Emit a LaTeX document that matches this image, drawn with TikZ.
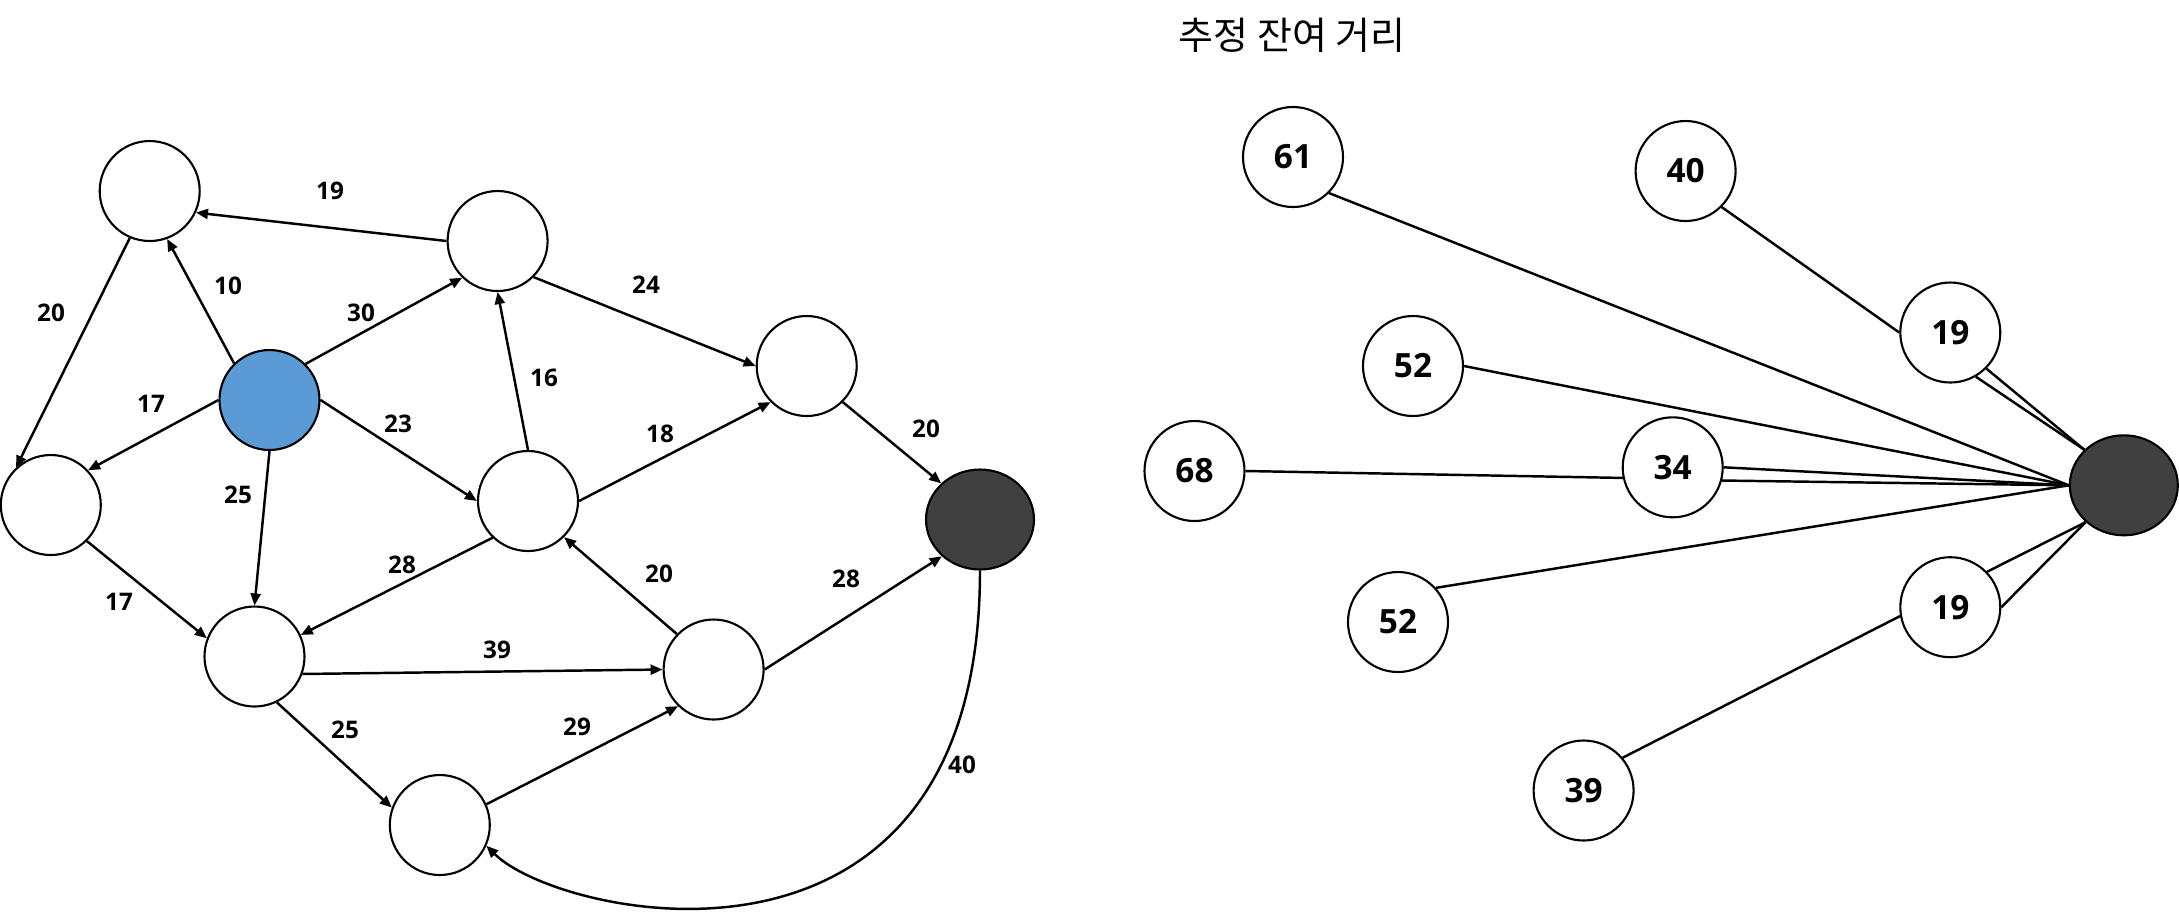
\documentclass[tikz,border=0pt]{standalone}
\usepackage{fontspec}
\setmainfont{Open Sans}
\newfontfamily\krfont{Noto Sans CJK KR}
\usetikzlibrary{arrows.meta,shapes.geometric}
\definecolor{startblue}{HTML}{5B9BD5}
\definecolor{goalgray}{HTML}{404040}

\begin{document}
\begin{tikzpicture}[
  vtx/.style={circle, draw=black, line width=0.6pt, fill=white,
              minimum size=1cm, inner sep=0pt},
  startv/.style={vtx, fill=startblue},
  goalv/.style={ellipse, draw=black, line width=0.6pt, fill=goalgray,
                minimum width=1.08cm, minimum height=1cm, inner sep=0pt},
  est/.style={vtx, font=\fontsize{9.5}{11}\selectfont\bfseries},
  cost/.style={font=\fontsize{6.9}{8}\selectfont\bfseries, inner sep=0pt},
  arr/.style={-{Triangle[length=1.2mm,width=1mm]}, line width=0.7pt},
  ln/.style={line width=0.7pt}
]
\useasboundingbox (0,0) rectangle (21.79,-9.14);

% road graph
\node[vtx] (A) at (1.497,-1.91) {};
\node[vtx] (B) at (4.976,-2.41) {};
\node[startv] (S) at (2.695,-4.00) {};
\node[vtx] (C) at (0.508,-5.05) {};
\node[vtx] (D) at (5.28,-5.01) {};
\node[vtx] (E) at (8.067,-3.66) {};
\node[goalv] (T) at (9.80,-5.195) {};
\node[vtx] (F) at (2.545,-6.565) {};
\node[vtx] (G) at (7.136,-6.695) {};
\node[vtx] (H) at (4.398,-8.25) {};

\draw[arr] (B.180) -- (A.-25);
\draw[arr] (S.134) -- (A.-70);
\draw[arr] (A.-113) -- (C.133);
\draw[arr] (S.45) -- (B.-134);
\draw[arr] (S.180) -- (C.43);
\draw[arr] (S.0) -- (D.180);
\draw[arr] (S.-90) -- (F.90);
\draw[arr] (D.90) -- (B.-90);
\draw[arr] (B.-45) -- (E.180);
\draw[arr] (D.0) -- (E.-135);
\draw[arr] (E.-45) -- (T.137);
\draw[arr] (C.-45) -- (F.159);
\draw[arr] (D.-134) -- (F.25);
\draw[arr] (G.136) -- (D.-45);
\draw[arr] (G.0) -- (T.-136);
\draw[arr] (F.-20) -- (G.180);
\draw[arr] (F.-64) -- (H.160);
\draw[arr] (H.24) -- (G.-134);
\draw[arr] (T.-90) .. controls +(0,-4.4) and +(0.73,-0.73) .. (H.-24);

\node[cost] (cBA) at (3.30,-1.91) {19};
\node[cost] (cSA) at (2.28,-2.86) {10};
\node[cost] (cAC) at (0.51,-3.13) {20};
\node[cost] (cSB) at (3.61,-3.13) {30};
\node[cost] (cSC) at (1.51,-4.04) {17};
\node[cost] (cSD) at (3.98,-4.24) {23};
\node[cost] (cDB) at (5.44,-3.78) {16};
\node[cost] (cSF) at (2.38,-4.95) {25};
\node[cost] (cBE) at (6.46,-2.85) {24};
\node[cost] (cDE) at (6.60,-4.34) {18};
\node[cost] (cET) at (9.26,-4.29) {20};
\node[cost] (cGD) at (6.59,-5.74) {20};
\node[cost] (cGT) at (8.46,-5.79) {28};
\node[cost] (cCF) at (1.19,-6.02) {17};
\node[cost] (cDF) at (4.02,-5.65) {28};
\node[cost] (cFG) at (4.97,-6.50) {39};
\node[cost] (cFH) at (3.45,-7.30) {25};
\node[cost] (cHG) at (5.77,-7.27) {29};
\node[cost] (cTH) at (9.62,-7.65) {40};

% estimated remaining distance
\node[font=\krfont\fontsize{10.8}{13}\selectfont, inner sep=0pt] (title) at (12.92,-0.35) {추정 잔여 거리};

\node[goalv] (g) at (21.238,-4.853) {};
\node[est] (r61) at (12.93,-1.57) {61};
\node[est] (r40) at (16.856,-1.71) {40};
\node[est] (r19a) at (19.503,-3.325) {19};
\node[est] (r52a) at (14.13,-3.66) {52};
\node[est] (r68) at (11.945,-4.71) {68};
\node[est] (r34) at (16.727,-4.673) {34};
\node[est] (r52b) at (13.98,-6.22) {52};
\node[est] (r19b) at (19.503,-6.072) {19};
\node[est] (r39) at (15.836,-7.905) {39};

\draw[ln] (r61.-45) -- (g.180);
\draw[ln] (r40.-45) -- (r19a.180);
\draw[ln] (r19a.-45) -- (g.138);
\draw[ln] (r19a.-60) -- (g.138);
\draw[ln] (r52a.0) -- (g.180);
\draw[ln] (r68.0) -- (r34.192);
\draw[ln] (r34.0) -- (g.180);
\draw[ln] (r34.-15) -- (g.180);
\draw[ln] (r52b.42) -- (g.180);
\draw[ln] (r19b.44) -- (g.-136);
\draw[ln] (r19b.0) -- (g.-136);
\draw[ln] (r39.40) -- (r19b.190);
\end{tikzpicture}
\end{document}
